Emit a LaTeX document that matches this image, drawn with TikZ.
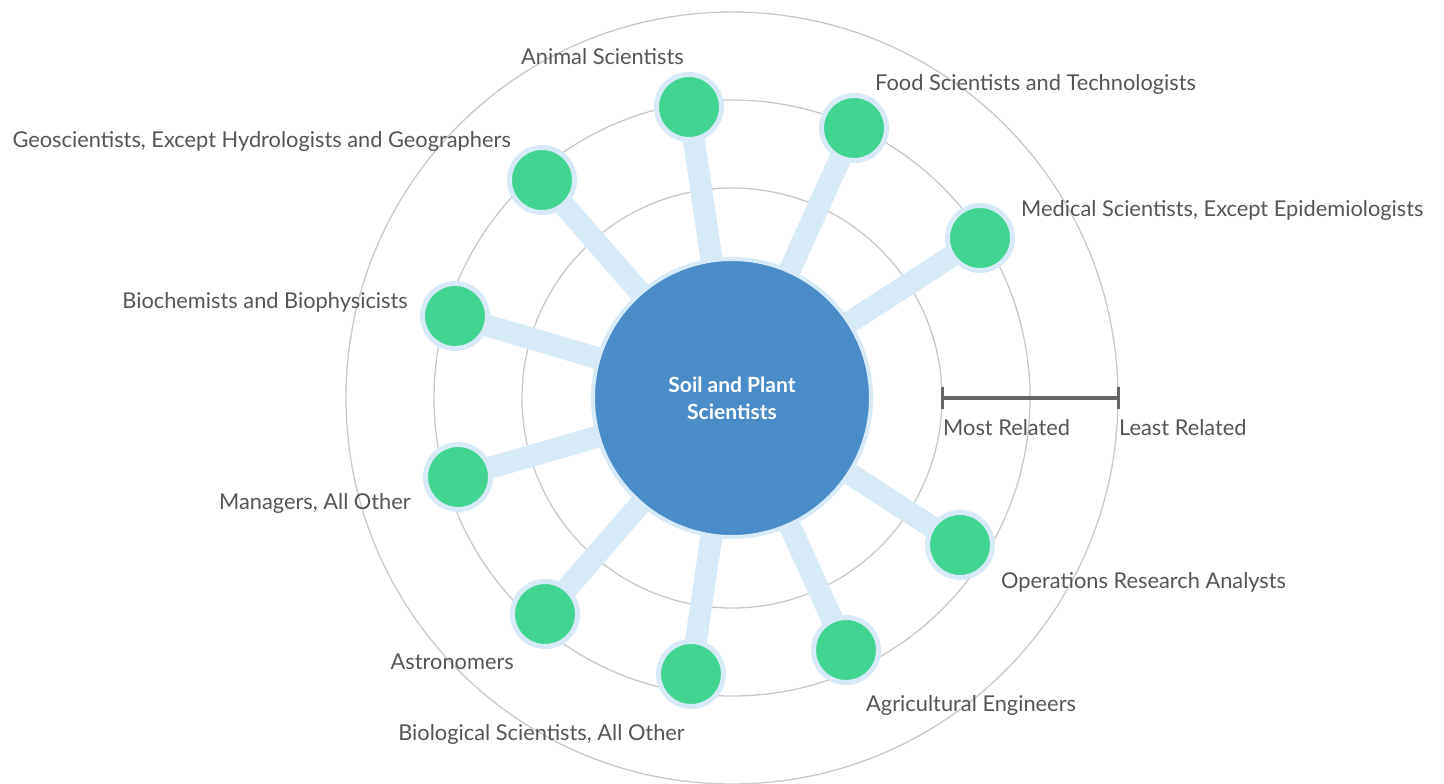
\documentclass[tikz,border=0pt]{standalone}
\usepackage{fontspec}
\setmainfont{Lato}
\usetikzlibrary{backgrounds}
\definecolor{ringgray}{HTML}{C8C8C8}
\definecolor{lightblue}{HTML}{D6EAF8}
\definecolor{mainblue}{HTML}{4A8CC7}
\definecolor{leafgreen}{HTML}{41D591}
\definecolor{labelgray}{HTML}{555555}
\definecolor{bargray}{HTML}{666666}
\tikzset{
  ring/.style={draw=ringgray, line width=1.3bp},
  conn/.style={draw=lightblue, line width=22bp},
  leaf/.style={circle, fill=leafgreen, draw=lightblue, line width=5bp, minimum size=65bp, inner sep=0},
  hub/.style={circle, fill=mainblue, draw=lightblue, line width=4bp, minimum size=278bp, inner sep=0,
    text=white, font=\fontsize{21bp}{27bp}\selectfont\bfseries, align=center},
  lbl/.style={text=labelgray, font=\fontsize{21.8bp}{26bp}\selectfont, inner sep=0},
  bar/.style={draw=bargray, line width=4bp},
}
\begin{document}
\begin{tikzpicture}[x=1bp,y=-1bp]
\useasboundingbox (0,0) rectangle (1444,783);
\node[hub] (c) at (732,398) {Soil and Plant\\Scientists};
\node[leaf] (n1) at (689,107) {};
\node[leaf] (n2) at (854,128) {};
\node[leaf] (n3) at (980,238) {};
\node[leaf] (n4) at (960,545) {};
\node[leaf] (n5) at (846,650) {};
\node[leaf] (n6) at (691,674) {};
\node[leaf] (n7) at (545,614) {};
\node[leaf] (n8) at (458,477) {};
\node[leaf] (n9) at (455,316) {};
\node[leaf] (n10) at (542,180) {};
\node[lbl, anchor=east] (l1) at (684,57) {Animal Scientists};
\node[lbl, anchor=west] (l2) at (875,84) {Food Scientists and Technologists};
\node[lbl, anchor=west] (l3) at (1021,210) {Medical Scientists, Except Epidemiologists};
\node[lbl, anchor=west] (l4) at (1001,582) {Operations Research Analysts};
\node[lbl, anchor=west] (l5) at (866,705) {Agricultural Engineers};
\node[lbl, anchor=east] (l6) at (685,734) {Biological Scientists, All Other};
\node[lbl, anchor=east] (l7) at (514,662) {Astronomers};
\node[lbl, anchor=east] (l8) at (411,503) {Managers, All Other};
\node[lbl, anchor=east] (l9) at (408,302) {Biochemists and Biophysicists};
\node[lbl, anchor=east] (l10) at (511,141) {Geoscientists, Except Hydrologists and Geographers};
\coordinate (sb1) at (942,398);
\coordinate (sb2) at (1118,398);
\draw[bar] (sb1) -- (sb2);
\draw[bar, line width=3bp] ([yshift=-11bp]sb1) -- ([yshift=11bp]sb1);
\draw[bar, line width=3bp] ([yshift=-11bp]sb2) -- ([yshift=11bp]sb2);
\node[lbl, anchor=west] (most) at (943,428) {Most Related};
\node[lbl, anchor=west] (least) at (1119,428) {Least Related};
\begin{pgfonlayer}{background}
\draw[ring] (c.center) circle[radius=210bp];
\draw[ring] (c.center) circle[radius=298bp];
\draw[ring] (c.center) circle[radius=386bp];
\foreach \i in {1,...,10} {\draw[conn] (c.center) -- (n\i.center);}
\end{pgfonlayer}
\end{tikzpicture}
\end{document}
